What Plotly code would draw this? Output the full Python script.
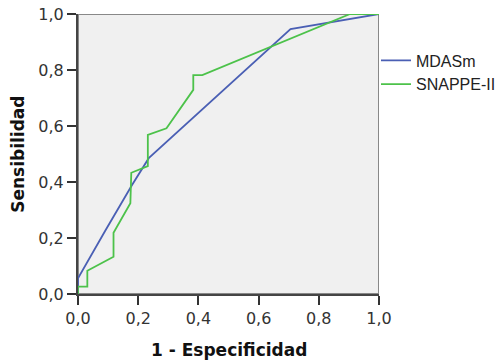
import plotly.graph_objects as go

# ROC curve data (1 - Especificidad, Sensibilidad)
mdasm_x = [0.0, 0.0, 0.09, 0.18, 0.235, 0.706, 1.0]
mdasm_y = [0.0, 0.056, 0.225, 0.39, 0.485, 0.946, 1.0]

snappe_x = [0.0, 0.0, 0.031, 0.031, 0.118, 0.118, 0.174, 0.177, 0.232, 0.232, 0.294, 0.383, 0.383, 0.413, 0.904, 1.0]
snappe_y = [0.0, 0.026, 0.026, 0.083, 0.133, 0.219, 0.324, 0.433, 0.457, 0.568, 0.592, 0.729, 0.782, 0.782, 1.0, 1.0]

tick_vals = [0.0, 0.2, 0.4, 0.6, 0.8, 1.0]
tick_text = ["0,0", "0,2", "0,4", "0,6", "0,8", "1,0"]

FONT = "DejaVu Sans"

fig = go.Figure()
fig.add_trace(go.Scatter(x=mdasm_x, y=mdasm_y, mode="lines", name="MDASm",
                         line=dict(color="#4a5fb4", width=1.8)))
fig.add_trace(go.Scatter(x=snappe_x, y=snappe_y, mode="lines", name="SNAPPE-II",
                         line=dict(color="#4cc24a", width=1.8)))

axis_common = dict(
    range=[0, 1], tickvals=tick_vals, ticktext=tick_text,
    showgrid=False, zeroline=False, showline=True, linecolor="#444444", linewidth=2,
    ticks="outside", ticklen=9, tickwidth=1.5, tickcolor="#333333",
    tickfont=dict(family=FONT, size=16, color="#333333"),
)

fig.update_layout(
    width=500, height=364,
    margin=dict(l=78, r=121, t=14, b=70, autoexpand=False),
    paper_bgcolor="white", plot_bgcolor="#f0f0f0",
    xaxis=dict(**axis_common),
    yaxis=dict(**axis_common),
    showlegend=True,
    legend=dict(x=0.99, y=0.895, xanchor="left", yanchor="top",
                font=dict(family="Liberation Sans", size=16, color="#222222"),
                itemwidth=30, bgcolor="rgba(0,0,0,0)", tracegroupgap=0),
    shapes=[dict(type="rect", xref="x", yref="y", x0=0, y0=0, x1=1, y1=1,
                 line=dict(color="#888888", width=2), layer="below")],
    annotations=[
        dict(text="<b>1 - Especificidad</b>", xref="paper", yref="paper", x=0.5, y=-0.2,
             xanchor="center", yanchor="middle", showarrow=False,
             font=dict(family=FONT, size=17, color="#111111")),
        dict(text="<b>Sensibilidad</b>", xref="paper", yref="paper", x=-0.2, y=0.5,
             xanchor="center", yanchor="middle", showarrow=False, textangle=-90,
             font=dict(family=FONT, size=17, color="#111111")),
    ],
)

fig.write_html("out.html")
